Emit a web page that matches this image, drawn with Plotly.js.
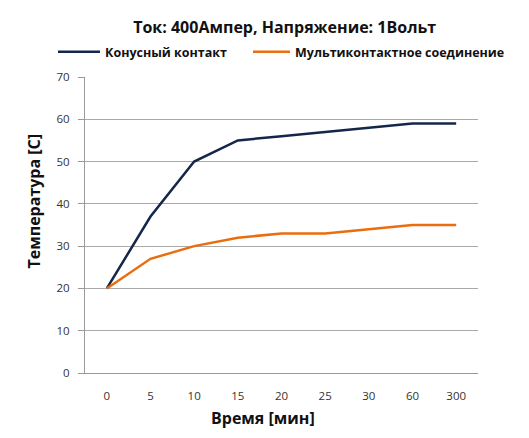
<!DOCTYPE html>
<html><head><meta charset="utf-8">
<script src="https://cdn.plot.ly/plotly-3.0.1.min.js"></script>
<style>html,body{margin:0;padding:0;background:#fff}#c{width:529px;height:438px}</style>
</head><body><div id="c"></div>
<script>
const categories = ["0","5","10","15","20","25","30","60","300"];
const konusny = [20,37,50,55,56,57,58,59,59];
const multi = [20,27,30,32,33,33,34,35,35];
const seriesNames = ["Конусный контакт","Мультиконтактное соединение"];
const F = "'Open Sans', 'DejaVu Sans', sans-serif";
const data = [
  {x:categories, y:konusny, name:seriesNames[0], type:'scatter', mode:'lines', line:{color:'#14264a', width:2.5}, legend:'legend'},
  {x:categories, y:multi, name:seriesNames[1], type:'scatter', mode:'lines', line:{color:'#ea6e10', width:2.5}, legend:'legend2'}
];
const legFont = {family:F, size:12.5, color:'#111', weight:'bold'};
const layout = {
  width:529, height:438,
  margin:{l:85, r:51, t:77, b:65},
  paper_bgcolor:'#fff', plot_bgcolor:'#fff',
  title:{text:'<b>Ток: 400Ампер, Напряжение: 1Вольт</b>', font:{family:F, size:16, color:'#111'}, xref:'paper', x:0.508, xanchor:'center', yref:'container', y:0.937, yanchor:'middle'},
  showlegend:true,
  legend:{orientation:'h', xref:'paper', yref:'paper', x:(53-85)/393, xanchor:'left', y:(373-52)/296, yanchor:'middle',
    font:legFont, itemwidth:42, bgcolor:'rgba(0,0,0,0)'},
  legend2:{orientation:'h', xref:'paper', yref:'paper', x:(248-85)/393, xanchor:'left', y:(373-52)/296, yanchor:'middle',
    font:legFont, itemwidth:37, bgcolor:'rgba(0,0,0,0)'},
  xaxis:{type:'category', range:[-0.5,8.5], showgrid:false, showline:true, linecolor:'#999', linewidth:1, ticks:'', tickfont:{family:F, size:11.5, color:'#333'}, ticklabelstandoff:12, zeroline:false, fixedrange:true},
  yaxis:{range:[0,70], dtick:10, showgrid:true, gridcolor:'#aaa', gridwidth:1, showline:true, linecolor:'#999', linewidth:1, ticks:'outside', ticklen:6, tickcolor:'#999', tickfont:{family:F, size:11.5, color:'#333'}, ticklabelstandoff:6, zeroline:false, fixedrange:true},
  annotations:[
    {text:'<b>Время [мин]</b>', xref:'paper', yref:'paper', x:(263-85)/393, y:(373-418)/296, xanchor:'center', yanchor:'middle', showarrow:false, font:{family:F, size:16, color:'#111'}},
    {text:'<b>Температура [C]</b>', xref:'paper', yref:'paper', x:(33-85)/393, y:(373-201.5)/296, xanchor:'center', yanchor:'middle', textangle:-90, showarrow:false, font:{family:F, size:16, color:'#111'}}
  ]
};
Plotly.newPlot('c', data, layout, {staticPlot:true, displayModeBar:false});
</script></body></html>
